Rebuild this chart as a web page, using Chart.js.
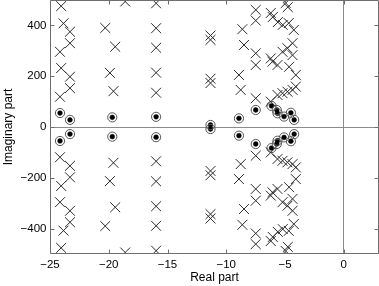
<!DOCTYPE html>
<html><head><meta charset="utf-8">
<script src="https://cdn.jsdelivr.net/npm/chart.js@4"></script>
<style>html,body{margin:0;padding:0;background:#fff;} #wrap{width:379px;height:286px;}</style>
</head><body><div id="wrap"><canvas id="c" width="379" height="286"></canvas></div>
<script>
// Poles (crosses): real parts and positive imaginary parts (each is a conjugate pair)
const poleRe = [-24.05,-23.85,-23.3,-23.3,-24.15,-24.05,-23.3,-23.3,-24.15,
  -20.3,-19.45,-19.9,-19.6,-18.6,
  -15.97,-15.97,-15.97,-15.97,-15.97,
  -11.34,-11.34,-11.34,-11.34,
  -8.63,-8.49,-8.92,-8.77,
  -7.49,-7.49,-7.49,-7.49,-7.49,
  -6.21,-6.04,-5.61,-5.19,-4.94,-4.76,-4.68,-4.25,
  -4.36,-4.79,-5.21,-6.21,-6.07,-5.64,-4.65,-4.36,-4.08,
  -6.21,-5.64,-5.21,-4.79,-4.36,-4.08];
const poleIm = [476,408,375,330,296,232,198,153,119,
  390,316,213,141,494,
  487,389,312,214,135,
  360,343,190,173,
  385,323,205,146,
  461,419,290,244,113,
  449,433,413,402,488,472,409,382,
  330,310,296,270,257,244,237,283,205,
  100,126,133,139,146,159];
// Zeros (circles with dots): real parts and positive imaginary parts
const zeroRe = [-24.15,-23.3,-19.7,-15.97,-11.34,-8.92,-7.49,-6.15,-5.70,-5.64,-5.08,-4.50,-4.22];
const zeroIm = [55,28,38,40,8,34,67,83,67,54,41,56,28];
const xTicks = [-25,-20,-15,-10,-5,0];
const yTicks = [-400,-200,0,200,400];
const xRange = [-25,3];
const yRange = [-500,500];

function conjPairs(re, im){
  const out = [];
  re.forEach((r,i)=>{ out.push({x:r,y:im[i]}); out.push({x:r,y:-im[i]}); });
  return out;
}
const poles = conjPairs(poleRe, poleIm);
const zeros = conjPairs(zeroRe, zeroIm);
const FONT = "'Liberation Sans', Arial, Helvetica, sans-serif";
const fmt = v => String(v).replace('-', '\u2212');

const boxPlugin = {
  id: 'box',
  afterDatasetsDraw(chart){
    const {ctx, chartArea:a, scales:{x, y}} = chart;
    ctx.save();
    ctx.strokeStyle = '#6e6e6e';
    ctx.lineWidth = 1;
    const L = Math.round(a.left)+0.5, R = Math.round(a.right)-0.5;
    const T = Math.round(a.top)+0.5, B = Math.round(a.bottom)-0.5;
    ctx.beginPath();
    ctx.rect(L, T, R-L, B-T);
    const tl = 4;
    xTicks.forEach(v => {
      const p = Math.round(x.getPixelForValue(v))+0.5;
      ctx.moveTo(p, B); ctx.lineTo(p, B-tl);
      ctx.moveTo(p, T); ctx.lineTo(p, T+tl);
    });
    yTicks.forEach(v => {
      const p = Math.round(y.getPixelForValue(v))+0.5;
      ctx.moveTo(L, p); ctx.lineTo(L+tl, p);
      ctx.moveTo(R, p); ctx.lineTo(R-tl, p);
    });
    ctx.stroke();
    ctx.restore();
  }
};

const zeroGrid = c => (c.tick && c.tick.value === 0) ? '#8c8c8c' : 'rgba(0,0,0,0)';
function noPad(s){ s.paddingTop = 0; s.paddingBottom = 0; s.paddingLeft = 0; s.paddingRight = 0; }

new Chart(document.getElementById('c'), {
  type: 'scatter',
  data: {
    datasets: [
      { data: poles, pointStyle: 'crossRot', pointRadius: 7, borderColor: '#2a2a2a', backgroundColor: '#2a2a2a', pointBorderWidth: 1, clip: 0 },
      { data: zeros, pointStyle: 'circle', pointRadius: 4.6, borderColor: '#555', backgroundColor: 'rgba(0,0,0,0)', pointBorderWidth: 1, clip: 0 },
      { data: zeros, pointStyle: 'circle', pointRadius: 2.4, borderColor: '#000', backgroundColor: '#000', pointBorderWidth: 0.5, clip: 0 }
    ]
  },
  options: {
    responsive: false,
    animation: false,
    devicePixelRatio: 1,
    layout: { autoPadding: false, padding: { top: 0, right: 0, left: 0, bottom: 0 } },
    plugins: { legend: { display: false }, tooltip: { enabled: false } },
    scales: {
      x: {
        type: 'linear', min: xRange[0], max: xRange[1],
        afterBuildTicks: s => { s.ticks = xTicks.map(v => ({value: v})); },
        afterFit: s => { s.height = 32; noPad(s); },
        grid: { color: zeroGrid, drawTicks: false, lineWidth: 1 },
        border: { display: false },
        ticks: { callback: fmt, color: '#000', font: { family: FONT, size: 11.5 }, padding: 4, maxRotation: 0 },
        title: { display: true, text: 'Real part', color: '#000', font: { family: FONT, size: 12 }, padding: { top: 0, bottom: 1 } }
      },
      y: {
        type: 'linear', min: yRange[0], max: yRange[1],
        afterBuildTicks: s => { s.ticks = yTicks.map(v => ({value: v})); },
        afterFit: s => { s.width = 50; noPad(s); },
        grid: { color: zeroGrid, drawTicks: false, lineWidth: 1 },
        border: { display: false },
        ticks: { callback: fmt, color: '#000', font: { family: FONT, size: 11.5 }, padding: 3.5 },
        title: { display: true, text: 'Imaginary part', color: '#000', font: { family: FONT, size: 12 }, padding: { top: 1, bottom: 0 } }
      }
    }
  },
  plugins: [boxPlugin]
});
</script>
</body></html>
